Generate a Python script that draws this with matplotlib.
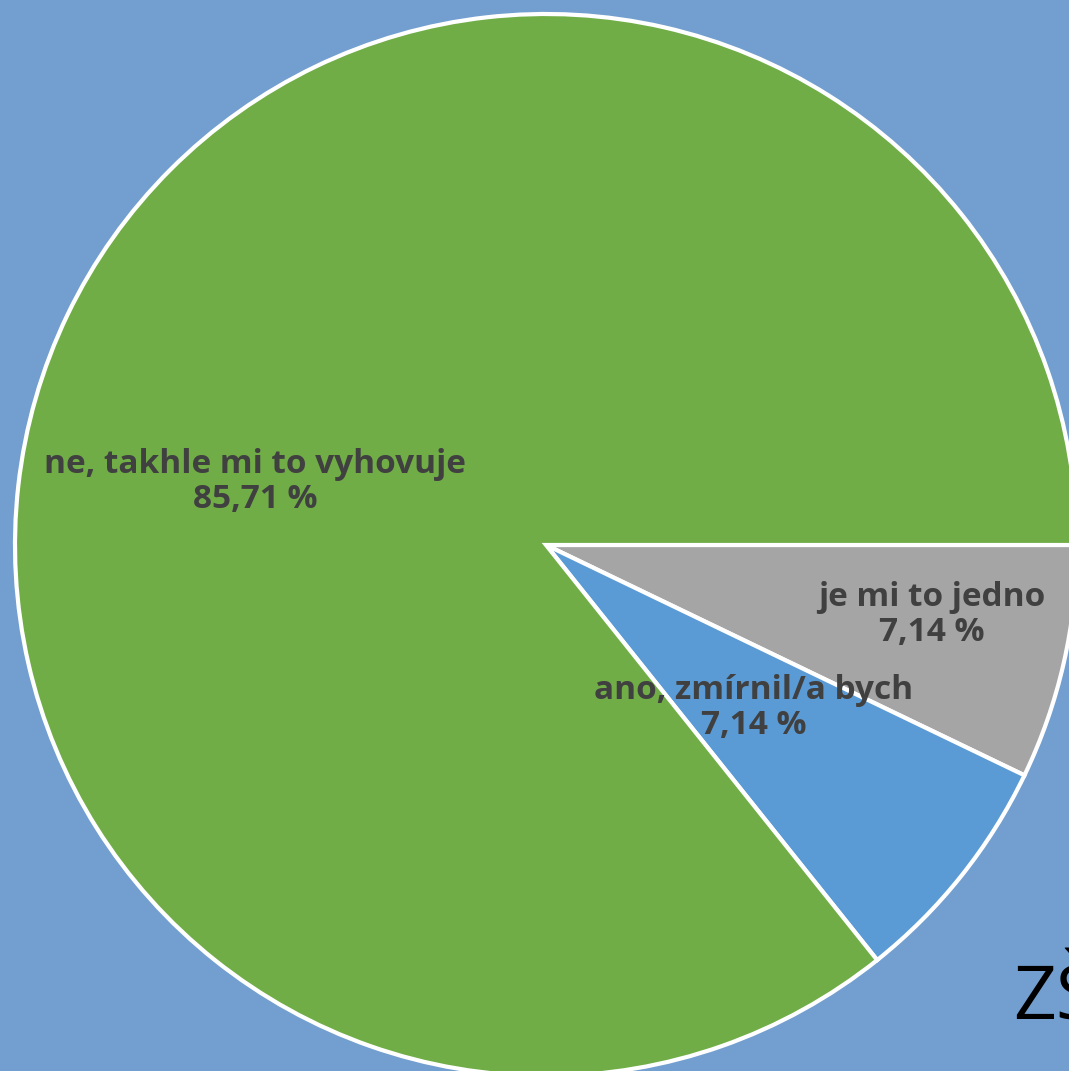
import matplotlib.pyplot as plt

# data
labels = ['je mi to jedno', 'ano, zmírnil/a bych', 'ne, takhle mi to vyhovuje']
values = [7.14, 7.14, 85.71]
colors = ['#A5A5A5', '#5B9BD5', '#70AD47']
bg = '#729FCF'

W, H = 1069, 1071
fig = plt.figure(figsize=(W / 100, H / 100), dpi=100, facecolor=bg)
ax = fig.add_axes([0, 0, 1, 1])
ax.set_facecolor(bg)

cx, cy, r = 546, H - 545, 531
ax.pie(values, colors=colors, startangle=0, counterclock=False,
       center=(cx, cy), radius=r, frame=True,
       wedgeprops=dict(edgecolor='white', linewidth=3))
ax.set_xlim(0, W)
ax.set_ylim(0, H)
ax.set_aspect('equal')
ax.axis('off')

# data labels (Excel best-fit positions)
lab_pos = [(932, H - 615), (754, H - 708), (255, H - 482)]
for lab, v, (x, y) in zip(labels, values, lab_pos):
    ax.text(x, y, f'{lab}\n{v:.2f} %'.replace('.', ','), ha='center', va='center',
            fontsize=24, fontweight='bold', color='#404040',
            family='Open Sans', linespacing=1.08)

ax.text(1013, H - 1020, 'ZŠ', fontsize=54, color='black', family='Open Sans',
        ha='left', va='baseline')

fig.savefig('out.png', dpi=100, facecolor=bg)
